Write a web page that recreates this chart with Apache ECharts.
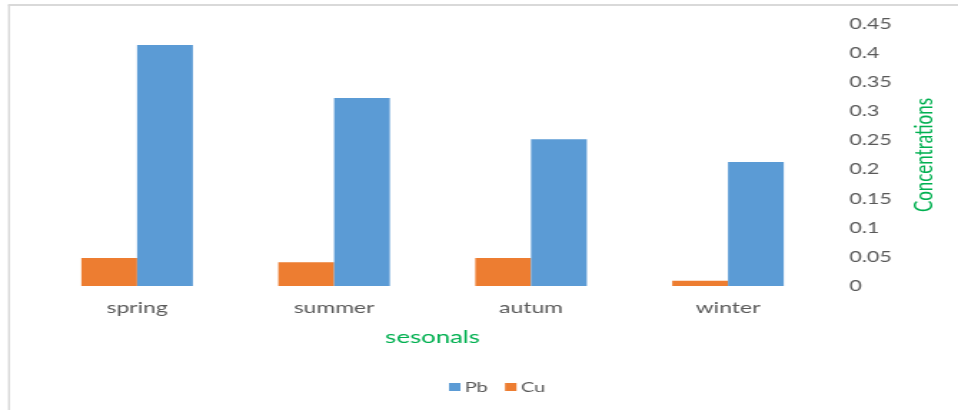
<!DOCTYPE html>
<html>
<head>
<meta charset="utf-8">
<script src="https://cdn.jsdelivr.net/npm/echarts@6/dist/echarts.min.js"></script>
<style>
  html, body { margin: 0; padding: 0; background: #fff; overflow: hidden; }
  /* The chart is laid out on a narrower canvas and widened horizontally,
     giving the broad, wide-set lettering of the original figure. */
  #chart { width: 670px; height: 410px; transform: scaleX(1.4299); transform-origin: 0 0; }
</style>
</head>
<body>
<div id="chart"></div>
<script>
// Seasonal heavy-metal concentrations
const seasons = ['spring', 'summer', 'autum', 'winter'];
const pbValues = [0.414, 0.323, 0.252, 0.213];
const cuValues = [0.048, 0.041, 0.048, 0.009];
const yTicks = [0, 0.05, 0.1, 0.15, 0.2, 0.25, 0.3, 0.35, 0.4, 0.45];

const FONT = 'Lato, "Open Sans", sans-serif';
const GREY = '#595959';
const GREEN = '#00b050';
const chart = echarts.init(document.getElementById('chart'));

chart.setOption({
  animation: false,
  backgroundColor: '#ffffff',
  grid: { left: 27, right: 92, top: 24, bottom: 124, containLabel: false },
  legend: {
    data: ['Pb', 'Cu'],
    left: 309,
    top: 375,
    itemWidth: 8,
    itemHeight: 8,
    itemGap: 12,
    icon: 'rect',
    textStyle: { color: GREY, fontSize: 14, fontFamily: FONT, padding: [0, 0, 0, -2] }
  },
  xAxis: {
    type: 'category',
    data: seasons,
    name: 'sesonals',
    nameLocation: 'middle',
    nameGap: 42,
    nameTextStyle: { color: GREEN, fontSize: 18, fontFamily: FONT },
    axisLine: { show: false },
    axisTick: { show: false },
    axisLabel: { color: GREY, fontSize: 16, fontFamily: FONT, margin: 14 }
  },
  yAxis: {
    type: 'value',
    position: 'right',
    min: yTicks[0],
    max: yTicks[yTicks.length - 1],
    interval: 0.05,
    name: 'Concentrations',
    nameLocation: 'middle',
    nameRotate: 90,
    nameGap: 60,
    nameTextStyle: { color: GREEN, fontSize: 17, fontFamily: FONT },
    splitLine: { show: false },
    axisLine: { show: false },
    axisTick: { show: false },
    axisLabel: {
      color: GREY, fontSize: 15, fontFamily: FONT, margin: 16, align: 'left',
      formatter: v => String(parseFloat(v.toFixed(2)))
    }
  },
  series: [
    {
      name: 'Cu', type: 'bar', data: cuValues,
      itemStyle: { color: '#ed7d31' },
      barWidth: 39, barGap: '0%'
    },
    {
      name: 'Pb', type: 'bar', data: pbValues,
      itemStyle: { color: '#5b9bd5' },
      barWidth: 39, barGap: '0%'
    }
  ],
  graphic: [
    // light frame along the top and left edges
    { type: 'line', shape: { x1: 5.6, y1: 5, x2: 670, y2: 5 }, style: { stroke: '#d9d9d9', lineWidth: 2 } },
    { type: 'line', shape: { x1: 6.3, y1: 5, x2: 6.3, y2: 410 }, style: { stroke: '#d9d9d9', lineWidth: 1.4 } }
  ]
});
</script>
</body>
</html>
